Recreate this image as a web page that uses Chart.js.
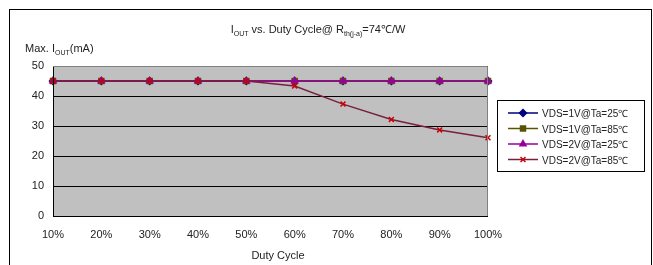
<!DOCTYPE html>
<html>
<head>
<meta charset="utf-8">
<script src="https://cdn.jsdelivr.net/npm/chart.js@4"></script>
<style>
  html, body { margin: 0; padding: 0; background: #fff; }
  #wrap { width: 653px; height: 265px; position: relative; }
</style>
</head>
<body>
<div id="wrap"><canvas id="dutyChart" width="653" height="265"></canvas></div>
<script>
const dutyLabels = ['10%', '20%', '30%', '40%', '50%', '60%', '70%', '80%', '90%', '100%'];
const yTicks = [0, 10, 20, 30, 40, 50];

const vds1Ta25 = [45, 45, 45, 45, 45, 45, 45, 45, 45, 45];
const vds1Ta85 = [45, 45, 45, 45, 45, 45, 45, 45, 45, 45];
const vds2Ta25 = [45, 45, 45, 45, 45, 45, 45, 45, 45, 45];
const vds2Ta85 = [45, 45, 45, 45, 45, 43.3, 37.3, 32.2, 28.7, 26.1];

const seriesNames = ['VDS=1V@Ta=25\u2103', 'VDS=1V@Ta=85\u2103', 'VDS=2V@Ta=25\u2103', 'VDS=2V@Ta=85\u2103'];

const FONT = '"Liberation Sans", Arial, sans-serif';

// draws the frame, titles with subscripts and the boxed legend
const decorPlugin = {
    id: 'decor',
    beforeDraw(chart) {
        const ctx = chart.ctx;
        const a = chart.chartArea;
        ctx.save();
        ctx.fillStyle = '#fff';
        ctx.fillRect(0, 0, chart.width, chart.height);
        ctx.strokeStyle = '#000';
        ctx.lineWidth = 1;
        ctx.strokeRect(9.5, 9.5, 642, 270);
        ctx.fillStyle = '#c0c0c0';
        ctx.fillRect(a.left, a.top, a.right - a.left, a.bottom - a.top);
        ctx.restore();
    },
    afterDraw(chart) {
        const ctx = chart.ctx;
        const a = chart.chartArea;
        ctx.save();
        ctx.strokeStyle = '#000';
        ctx.lineWidth = 1;
        ctx.beginPath();
        ctx.moveTo(a.left + 0.5, a.top);
        ctx.lineTo(a.left + 0.5, a.bottom + 0.5);
        ctx.lineTo(a.right, a.bottom + 0.5);
        ctx.stroke();
        ctx.strokeStyle = '#808080';
        ctx.beginPath();
        ctx.moveTo(a.left, a.top + 0.5);
        ctx.lineTo(a.right - 0.5, a.top + 0.5);
        ctx.lineTo(a.right - 0.5, a.bottom);
        ctx.stroke();

        ctx.fillStyle = '#222';
        ctx.textBaseline = 'alphabetic';
        // title with subscripts
        const parts = [
            ['I', 11, 0], ['OUT', 7, 3], [' vs. Duty Cycle@ R', 11, 0], ['th(j-a)', 7, 3], ['=74\u2103/W', 11, 0]
        ];
        let total = 0;
        parts.forEach(p => { ctx.font = p[1] + 'px ' + FONT; total += ctx.measureText(p[0]).width; });
        let x = 318 - total / 2;
        parts.forEach(p => {
            ctx.font = p[1] + 'px ' + FONT;
            ctx.fillText(p[0], x, 33 + p[2]);
            x += ctx.measureText(p[0]).width;
        });
        // y axis title
        const yParts = [['Max. I', 11, 0], ['OUT', 7, 3], ['(mA)', 11, 0]];
        x = 25;
        yParts.forEach(p => {
            ctx.font = p[1] + 'px ' + FONT;
            ctx.fillText(p[0], x, 52 + p[2]);
            x += ctx.measureText(p[0]).width;
        });
        // x axis title
        ctx.font = '11px ' + FONT;
        ctx.textAlign = 'center';
        ctx.fillText('Duty Cycle', 278, 259);

        // legend
        ctx.textAlign = 'left';
        ctx.strokeStyle = '#000';
        ctx.strokeRect(497.5, 100.5, 147, 71);
        chart.data.datasets.forEach((ds, i) => {
            const ly = 113 + i * 15.5;
            ctx.strokeStyle = ds.borderColor;
            ctx.lineWidth = 1.5;
            ctx.beginPath();
            ctx.moveTo(508, ly);
            ctx.lineTo(538, ly);
            ctx.stroke();
            ctx.fillStyle = ds.pointBackgroundColor;
            ctx.strokeStyle = ds.pointBorderColor;
            Chart.helpers.drawPoint(ctx, {
                pointStyle: ds.pointStyle,
                radius: ds.pointRadius,
                rotation: 0,
                borderWidth: 1.5
            }, 523, ly);
            ctx.fillStyle = '#222';
            ctx.font = '10px ' + FONT;
            ctx.fillText(ds.label, 542, ly + 4);
        });
        ctx.restore();
    }
};

function makeSeries(label, data, color, style, order, extra) {
    return Object.assign({
        label: label,
        data: data,
        order: order,
        borderColor: color,
        backgroundColor: color,
        pointBackgroundColor: color,
        pointBorderColor: color,
        pointStyle: style,
        pointRadius: 3.5,
        pointBorderWidth: 1.5,
        borderWidth: 1.5,
        tension: 0,
        fill: false
    }, extra || {});
}

const config = {
    type: 'line',
    data: {
        labels: dutyLabels,
        datasets: [
            makeSeries(seriesNames[0], vds1Ta25, '#000080', 'rectRot', 4),
            makeSeries(seriesNames[1], vds1Ta85, '#555500', 'rect', 3),
            makeSeries(seriesNames[2], vds2Ta25, '#990099', 'triangle', 2),
            makeSeries(seriesNames[3], vds2Ta85, '#7a1f3d', 'crossRot', 1, { pointBorderColor: '#cc0000', pointBackgroundColor: '#cc0000' })
        ]
    },
    options: {
        responsive: false,
        animation: false,
        layout: { padding: { left: 0, top: 66, right: 165, bottom: 0 } },
        plugins: {
            legend: { display: false },
            title: { display: false },
            tooltip: { enabled: false }
        },
        scales: {
            x: {
                offset: false,
                grid: { display: false, drawTicks: false },
                border: { display: false },
                ticks: {
                    color: '#222',
                    font: { family: FONT, size: 11 },
                    padding: 12,
                    maxRotation: 0,
                    autoSkip: false
                },
                afterFit(scale) { scale.height = 49; }
            },
            y: {
                min: 0,
                max: 50,
                afterBuildTicks(scale) { scale.ticks = yTicks.map(v => ({ value: v })); },
                grid: { color: '#000', lineWidth: 1, drawTicks: false },
                border: { display: false },
                ticks: {
                    color: '#222',
                    font: { family: FONT, size: 11 },
                    padding: 9
                },
                afterFit(scale) { scale.width = 53; }
            }
        }
    },
    plugins: [decorPlugin]
};

const canvas = document.getElementById('dutyChart');
const ctx = canvas.getContext('2d');
const chartInstance = new Chart(ctx, config);
</script>
</body>
</html>
